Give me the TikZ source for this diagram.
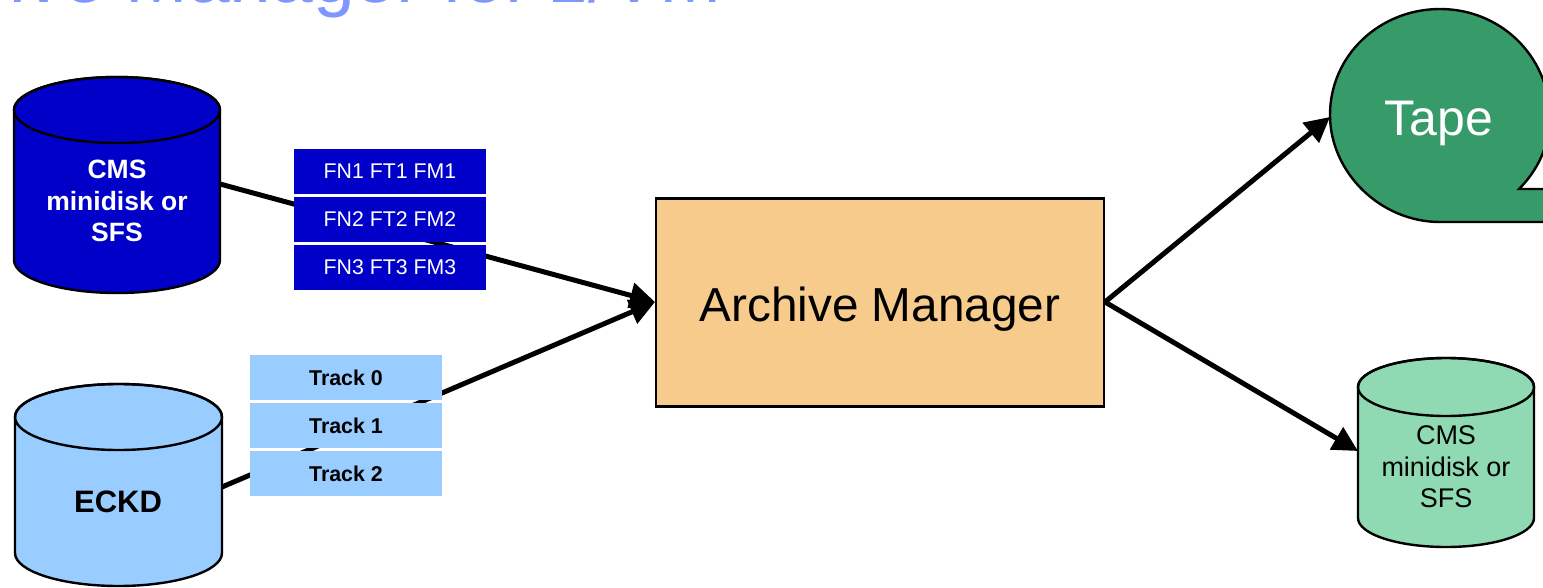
\documentclass[tikz,border=0pt]{standalone}
\usepackage{fontspec}
\setmainfont{Liberation Sans}
\usetikzlibrary{arrows.meta}
\definecolor{navy}{HTML}{0000C8}
\definecolor{sky}{HTML}{99CCFF}
\definecolor{orangebox}{HTML}{F6CB8C}
\definecolor{tapegreen}{HTML}{369A69}
\definecolor{mint}{HTML}{8FDAB3}
\definecolor{titleblue}{HTML}{7F96FF}
\newcommand{\cyl}[7]{% x left, x right, top y(ellipse centre), bottom y(ellipse centre), ry, fill, name
  \pgfmathsetmacro{\cx}{(#1+#2)/2}\pgfmathsetmacro{\rx}{(#2-#1)/2}
  \draw[cylline,fill=#6] (#1,#3) -- (#1,#4) arc[start angle=180,end angle=360,x radius=\rx,y radius=-#5] -- (#2,#3) arc[start angle=0,end angle=180,x radius=\rx,y radius=-#5] -- cycle;
  \draw[cylline] (\cx,#3) ellipse[x radius=\rx,y radius=#5];
  \coordinate (#7) at (#1,#3);
}
\tikzset{
  cylline/.style={draw=black,line width=2.4pt},
  flow/.style={line width=5pt,draw=black,-{Triangle[length=25pt,width=25pt]}},
  bar/.style={minimum width=192pt,minimum height=45pt,inner sep=0pt,font=\fontsize{21.3}{24}\selectfont,text=white,fill=navy},
  trackbar/.style={minimum width=192pt,minimum height=45pt,inner sep=0pt,font=\fontsize{21.4}{24}\selectfont\bfseries,text=black,fill=sky},
  label/.style={inner sep=0pt,align=center}
}
\begin{document}
\begin{tikzpicture}[x=1pt,y=-1pt]
\useasboundingbox (0,0) rectangle (1543,587);
\clip (0,0) rectangle (1543,587);
\node[anchor=base east,inner sep=0pt,text=titleblue,font=\fontsize{75}{80}\selectfont] (title) at (722,2.5) {ive Manager for z/VM};

\coordinate (c1out) at (220,184);
\coordinate (c2out) at (222,487);
\node[draw=black,line width=2.4pt,fill=orangebox,minimum width=448pt,minimum height=208pt,inner sep=0pt] (am) at (880,302.5) {};
\node[label,font=\fontsize{47.7}{56}\selectfont] (amt) at (880,309) {Archive Manager};
\coordinate (amin) at (655,302);
\coordinate (amout) at (1105,302);

% connectors behind bars
\draw[flow] (c1out) -- (amin);
\draw[flow] (c2out) -- (amin);

\cyl{14}{220}{110}{260}{33}{navy}{c1}
\node[label,text=white,font=\fontsize{26.5}{31.5}\selectfont\bfseries] (c1t) at (117,201) {CMS\\minidisk or\\SFS};
\cyl{15}{222}{417}{553}{33}{sky}{c2}
\node[label,text=black,font=\fontsize{31}{36}\selectfont\bfseries] (c2t) at (118,502) {ECKD};

\node[bar] (f1) at (390,171.5) {FN1 FT1 FM1};
\node[bar] (f2) at (390,219.5) {FN2 FT2 FM2};
\node[bar] (f3) at (390,267.5) {FN3 FT3 FM3};
\node[trackbar] (t0) at (346,377.5) {Track 0};
\node[trackbar] (t1) at (346,425.5) {Track 1};
\node[trackbar] (t2) at (346,473.5) {Track 2};

% Tape
\draw[line width=2.4pt,fill=tapegreen] (1543,222) -- (1440,222)
  .. controls (1380,222) and (1330,172) .. (1330,115)
  .. controls (1330,55) and (1380,9) .. (1440,9)
  .. controls (1500,9) and (1548,55) .. (1550,115)
  .. controls (1550,145) and (1538,170) .. (1519,189)
  -- (1560,189) -- (1560,222) -- cycle;
\node[label,text=white,font=\fontsize{50}{56}\selectfont] (tape) at (1439,123) {Tape};
\coordinate (tapein) at (1330,117);
\draw[flow] (amout) -- (tapein);

% lower right cylinder
\cyl{1358}{1534}{387}{518}{29}{mint}{c3}
\node[label,text=black,font=\fontsize{27}{31.5}\selectfont] (c3t) at (1446,467) {CMS\\minidisk or\\SFS};
\coordinate (c3in) at (1358,451);
\draw[flow] (amout) -- (c3in);
\end{tikzpicture}
\end{document}
